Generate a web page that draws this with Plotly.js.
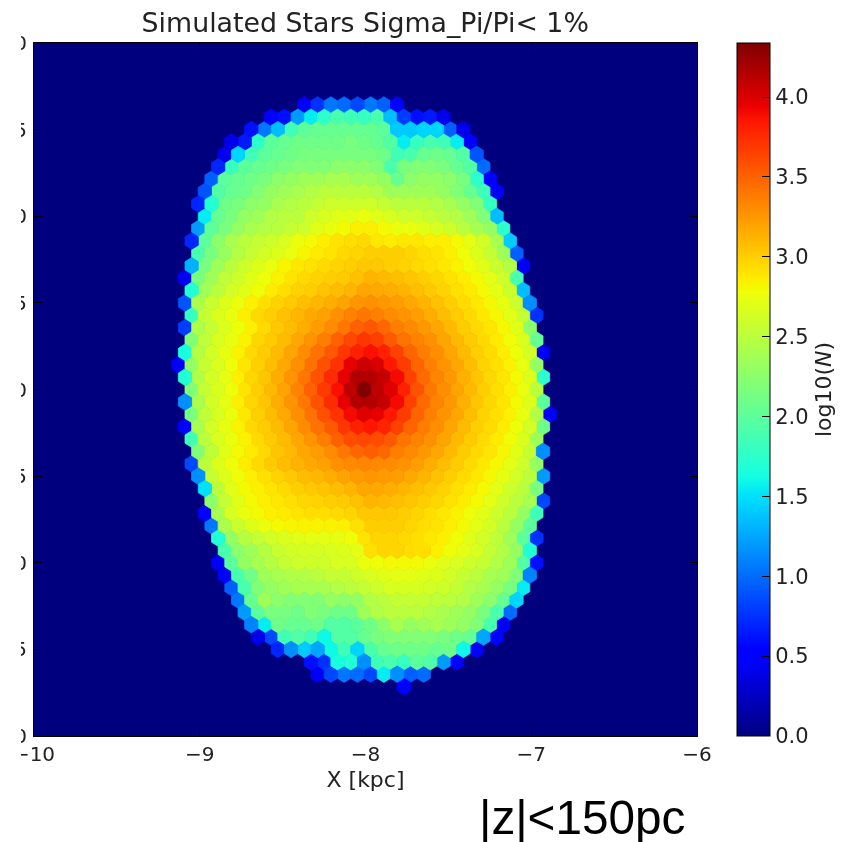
<!DOCTYPE html>
<html><head><meta charset="utf-8">
<script src="https://cdn.plot.ly/plotly-3.0.1.min.js"></script>
<style>html,body{margin:0;padding:0;background:#fff;overflow:hidden}#c{position:absolute;left:0;top:0;width:854px;height:842px;filter:blur(0.6px)}#crop{position:absolute;left:0;top:0;width:21px;height:842px;background:#fff}</style>
</head><body><div id="c"></div><div id="crop"></div>
<script>
// log10(N) per hexbin cell. Row k = half-row index from the bottom; rowStart = first column index.
const rowK = [51,50,49,48,47,46,45,44,43,42,41,40,39,38,37,36,35,34,33,32,31,30,29,28,27,26,25,24,23,22,21,20,19,18,17,16,15,14,13,12,11,10,9,8,7,6,5,4];
const rowStart = [20,18,16,15,14,14,13,13,12,13,12,12,12,12,11,12,11,12,11,12,11,11,11,12,11,12,11,12,12,12,12,13,13,13,13,14,14,14,14,15,15,16,16,17,18,21,21,28];
const rowValues = [
[.45,.75,1.05,1.0,.85,1.05,.95,.55],
[.5,.6,1.2,1.55,1.75,1.9,1.85,1.8,1.9,1.35,.8,.6,.65,.4],
[.6,1.05,1.35,1.85,2.0,2.05,2.05,2.05,2.05,2.05,2.0,1.4,1.4,1.45,1.45,.95,.4],
[.4,.65,1.75,2.0,2.05,2.1,2.1,2.1,2.1,2.15,2.1,2.05,1.95,1.55,1.8,1.9,1.85,1.55,.5],
[.4,1.45,1.85,2.0,2.05,2.1,2.15,2.15,2.15,2.15,2.15,2.15,2.1,1.85,1.9,2.05,2.1,2.05,1.95,.9],
[.7,1.8,2.0,2.05,2.1,2.15,2.2,2.2,2.2,2.25,2.25,2.25,2.2,1.9,2.15,2.2,2.2,2.15,2.05,1.95,1.0],
[.95,2.0,2.05,2.1,2.15,2.25,2.3,2.35,2.35,2.4,2.4,2.35,2.35,2.3,2.05,2.25,2.3,2.3,2.25,2.15,1.75,.5],
[.9,1.95,2.05,2.1,2.2,2.3,2.35,2.4,2.45,2.5,2.5,2.5,2.5,2.45,2.35,2.35,2.35,2.35,2.3,2.2,2.05,1.85,.45],
[.7,1.7,2.1,2.15,2.25,2.3,2.4,2.45,2.5,2.55,2.6,2.6,2.6,2.6,2.55,2.5,2.5,2.5,2.45,2.4,2.3,2.2,1.8],
[1.55,2.05,2.15,2.3,2.35,2.45,2.5,2.5,2.6,2.65,2.7,2.7,2.75,2.7,2.65,2.6,2.6,2.55,2.5,2.45,2.35,2.2,1.35],
[1.2,2.0,2.15,2.3,2.4,2.45,2.5,2.55,2.6,2.7,2.75,2.8,2.85,2.85,2.8,2.75,2.75,2.7,2.65,2.6,2.5,2.4,2.3,1.75],
[.7,2.0,2.25,2.4,2.5,2.55,2.6,2.65,2.75,2.8,2.85,2.9,2.93,2.95,2.88,2.86,2.88,2.88,2.85,2.85,2.8,2.72,2.62,2.4,1.4],
[1.9,2.15,2.32,2.46,2.55,2.62,2.68,2.75,2.82,2.87,2.9,2.95,2.97,3.0,3.0,3.0,2.97,2.93,2.9,2.85,2.78,2.68,2.55,2.35,.95],
[1.3,2.15,2.35,2.5,2.6,2.68,2.75,2.82,2.88,2.91,2.94,2.97,3.0,3.03,3.03,3.0,2.98,2.95,2.92,2.88,2.83,2.78,2.7,2.58,2.45,.45],
[.45,2.15,2.35,2.52,2.6,2.7,2.77,2.83,2.9,2.95,2.98,3.0,3.02,3.06,3.12,3.1,3.07,3.04,3.0,2.96,2.91,2.86,2.8,2.72,2.6,1.9],
[1.7,2.35,2.5,2.62,2.7,2.78,2.87,2.93,2.98,3.0,3.05,3.08,3.12,3.18,3.17,3.15,3.12,3.07,3.03,2.98,2.92,2.87,2.8,2.71,2.58,1.35],
[.9,2.42,2.57,2.68,2.76,2.84,2.93,2.98,3.02,3.07,3.11,3.15,3.2,3.26,3.28,3.25,3.22,3.17,3.12,3.06,3.0,2.94,2.88,2.81,2.73,2.58,1.15],
[1.8,2.55,2.67,2.75,2.85,2.95,3.0,3.06,3.11,3.17,3.21,3.28,3.35,3.4,3.36,3.31,3.27,3.22,3.15,3.08,3.01,2.95,2.88,2.81,2.71,2.55,.75],
[.8,2.43,2.55,2.67,2.77,2.85,2.95,3.03,3.08,3.15,3.23,3.31,3.4,3.5,3.55,3.48,3.37,3.32,3.25,3.18,3.1,3.01,2.95,2.89,2.81,2.7,2.25],
[2.2,2.52,2.65,2.74,2.84,2.96,3.02,3.09,3.18,3.27,3.37,3.5,3.62,3.7,3.66,3.54,3.42,3.35,3.28,3.19,3.1,3.02,2.95,2.87,2.79,2.67,2.05],
[1.65,2.47,2.62,2.73,2.83,2.95,3.01,3.09,3.19,3.31,3.43,3.54,3.7,3.8,3.88,3.8,3.65,3.49,3.37,3.29,3.19,3.09,3.0,2.94,2.86,2.77,2.63,.45],
[.45,2.3,2.56,2.66,2.77,2.89,2.99,3.08,3.17,3.29,3.43,3.58,3.72,3.95,4.05,4.0,3.84,3.67,3.49,3.36,3.27,3.18,3.08,2.98,2.92,2.84,2.74,2.3],
[1.7,2.45,2.62,2.72,2.85,2.96,3.04,3.15,3.27,3.4,3.57,3.75,3.95,4.15,4.15,4.08,3.9,3.65,3.46,3.34,3.25,3.14,3.04,2.96,2.89,2.8,2.68,1.75],
[2.2,2.55,2.67,2.77,2.9,3.0,3.1,3.2,3.35,3.5,3.68,3.88,4.1,4.33,4.1,3.98,3.8,3.57,3.4,3.3,3.2,3.1,3.0,2.93,2.85,2.75,2.5],
[1.15,2.42,2.62,2.72,2.85,2.96,3.04,3.15,3.27,3.4,3.57,3.75,3.95,4.15,4.15,4.08,3.9,3.65,3.46,3.34,3.25,3.14,3.04,2.96,2.89,2.8,2.68,2.0],
[2.15,2.52,2.65,2.75,2.88,2.99,3.08,3.17,3.29,3.43,3.58,3.72,3.9,3.98,3.95,3.84,3.67,3.49,3.36,3.27,3.18,3.08,2.98,2.92,2.84,2.74,2.45,.5],
[.5,2.4,2.62,2.73,2.83,2.95,3.01,3.09,3.19,3.31,3.43,3.54,3.7,3.8,3.85,3.78,3.65,3.49,3.37,3.29,3.19,3.09,3.0,2.94,2.86,2.77,2.63,2.1],
[1.85,2.5,2.65,2.75,2.84,2.95,3.02,3.09,3.18,3.27,3.37,3.5,3.6,3.62,3.6,3.54,3.42,3.35,3.28,3.19,3.1,3.02,2.95,2.87,2.79,2.67,2.35],
[2.2,2.52,2.7,2.8,2.87,2.95,3.04,3.1,3.18,3.23,3.31,3.4,3.48,3.52,3.48,3.37,3.32,3.25,3.18,3.1,3.01,2.95,2.89,2.81,2.7,2.55,1.15],
[.85,2.5,2.68,2.78,2.86,2.95,3.02,3.08,3.13,3.17,3.21,3.28,3.32,3.33,3.32,3.31,3.27,3.22,3.15,3.08,3.01,2.95,2.88,2.81,2.71,2.6,2.3],
[1.15,2.55,2.68,2.78,2.85,2.92,2.98,3.03,3.08,3.11,3.15,3.2,3.24,3.26,3.24,3.22,3.17,3.12,3.06,3.0,2.94,2.88,2.81,2.73,2.62,2.5,1.2],
[1.5,2.5,2.7,2.8,2.85,2.9,2.95,3.0,3.03,3.05,3.08,3.12,3.18,3.17,3.15,3.12,3.07,3.03,2.98,2.92,2.87,2.8,2.71,2.6,2.5,2.15],
[2.25,2.55,2.7,2.8,2.85,2.88,2.92,2.96,2.98,3.0,3.02,3.06,3.12,3.1,3.07,3.04,3.0,2.96,2.91,2.86,2.8,2.72,2.6,2.5,2.4,.85],
[.55,2.4,2.65,2.75,2.8,2.85,2.87,2.9,2.93,2.93,2.95,2.97,3.03,3.03,3.03,3.0,2.97,2.93,2.88,2.83,2.78,2.7,2.6,2.5,2.3,1.85],
[1.05,2.42,2.58,2.68,2.75,2.8,2.82,2.83,2.83,2.84,2.85,2.92,3.0,3.0,3.0,2.97,2.93,2.9,2.85,2.8,2.72,2.63,2.5,2.3,2.0],
[1.7,2.3,2.48,2.55,2.62,2.67,2.7,2.72,2.72,2.73,2.78,2.9,2.97,2.97,2.95,2.93,2.88,2.85,2.78,2.7,2.62,2.52,2.35,2.0,.75],
[1.9,2.25,2.35,2.47,2.57,2.62,2.64,2.64,2.65,2.68,2.72,2.92,2.97,2.97,2.93,2.93,2.85,2.78,2.72,2.65,2.55,2.45,2.3,1.7],
[.45,2.0,2.3,2.4,2.47,2.55,2.6,2.6,2.6,2.65,2.65,2.75,2.78,2.8,2.8,2.8,2.75,2.7,2.65,2.6,2.55,2.45,2.35,1.95,.6],
[.55,1.9,2.1,2.35,2.4,2.45,2.45,2.5,2.55,2.55,2.6,2.65,2.7,2.72,2.72,2.7,2.68,2.62,2.55,2.5,2.4,2.35,2.2,1.1],
[.95,1.9,2.2,2.3,2.35,2.4,2.4,2.4,2.45,2.5,2.55,2.6,2.65,2.65,2.65,2.62,2.6,2.55,2.45,2.4,2.3,2.15,1.55],
[1.05,2.05,2.35,2.25,2.2,2.2,2.2,2.3,2.25,2.3,2.45,2.5,2.55,2.55,2.55,2.52,2.5,2.45,2.35,2.25,2.05,1.45],
[1.2,2.0,2.15,2.15,2.1,2.2,2.15,2.1,2.1,2.35,2.45,2.5,2.5,2.5,2.45,2.4,2.35,2.3,2.15,1.9,1.0],
[1.1,1.55,2.1,2.05,2.05,2.1,1.95,1.95,2.0,2.1,2.25,2.4,2.3,2.35,2.4,2.35,2.3,2.2,1.9,.5],
[.4,.85,1.85,1.95,1.85,1.6,1.95,1.95,2.05,2.15,2.2,2.2,2.2,2.2,2.15,2.1,2.05,1.25,.55],
[.7,1.15,1.4,1.25,1.6,1.85,1.45,1.9,2.05,2.1,2.1,2.1,2.05,2.1,1.6,.5],
[.6,.75,1.65,1.7,1.15,1.85,1.9,1.8,2.0,1.95,1.2,.55],
[.45,.85,1.05,1.0,.85,1.55,1.15,.95,1.0],
[.5]
];
const xTicks = [-10,-9,-8,-7,-6];
const yTicks = [-2,-1.5,-1,-0.5,0,0.5,1,1.5,2];
const cbTicks = [0,0.5,1,1.5,2,2.5,3,3.5,4];
const xMin = -10.009, sx = 0.08, sy = 4/28, yMin = -2, cMax = 4.338;

// matplotlib "jet"
const jetR=[[0,0],[.35,0],[.66,1],[.89,1],[1,.5]], jetG=[[0,0],[.125,0],[.375,1],[.64,1],[.91,0],[1,0]], jetB=[[0,.5],[.11,1],[.34,1],[.65,0],[1,0]];
function lerp(t,s){for(let i=1;i<s.length;i++){if(t<=s[i][0]){return s[i-1][1]+(s[i][1]-s[i-1][1])*(t-s[i-1][0])/(s[i][0]-s[i-1][0]);}}return s[s.length-1][1];}
function jet(t){return 'rgb('+[jetR,jetG,jetB].map(s=>Math.round(255*lerp(t,s))).join(',')+')';}
const stops=[...new Set([...jetR,...jetG,...jetB].map(p=>p[0]))].sort((a,b)=>a-b);
const colorscale=stops.map(t=>[t,jet(t)]);

const groups=new Map(), cx=[], cy=[], cv=[];
rowValues.forEach((vals,r)=>{
  const k=rowK[r], y=yMin+k*sy/2;
  vals.forEach((v,j)=>{
    const i=rowStart[r]+j, x=xMin+(i+(k%2?0.5:0))*sx;
    const hw=sx/2, a=sy/6, b=sy/3;
    if(!groups.has(v))groups.set(v,{x:[],y:[]});
    const g=groups.get(v);
    g.x.push(x-hw,x-hw,x,x+hw,x+hw,x,x-hw,null);
    g.y.push(y-a,y+a,y+b,y+a,y-a,y-b,y-a,null);
    cx.push(x);cy.push(y);cv.push(v);
  });
});
const data=[];
groups.forEach((g,v)=>{
  const col=jet(v/cMax);
  data.push({type:'scatter',mode:'lines',x:g.x,y:g.y,fill:'toself',fillcolor:col,line:{color:col,width:0.8},hoverinfo:'skip',showlegend:false});
});
data.push({type:'scatter',mode:'markers',x:cx,y:cy,hoverinfo:'skip',showlegend:false,
  marker:{size:3,color:cv,cmin:0,cmax:cMax,colorscale:colorscale,line:{width:0},
    colorbar:{x:1.0603,xanchor:'left',xpad:0,ypad:0,y:0,yanchor:'bottom',len:1,lenmode:'fraction',thickness:33,thicknessmode:'pixels',
      outlinecolor:'#000',outlinewidth:1,ticks:'inside',ticklen:8,tickcolor:'#000',tickwidth:1,tickvals:cbTicks,ticktext:cbTicks.map(t=>t.toFixed(1)),
      tickfont:{family:'DejaVu Sans',size:21,color:'#222'},
      title:{text:'log10(<i>N</i>)',side:'right',font:{family:'DejaVu Sans',size:22,color:'#222'}}}}});
const axisCommon={showgrid:false,zeroline:false,showline:true,linecolor:'#000',linewidth:1,mirror:'ticks',ticks:'inside',ticklen:8,tickcolor:'#000',tickwidth:1,tickfont:{family:'DejaVu Sans',size:20,color:'#222'}};
const layout={width:854,height:842,margin:{l:33.5,r:157,t:43,b:106},paper_bgcolor:'#fff',plot_bgcolor:'#00007f',showlegend:false,
  title:{text:'Simulated Stars Sigma_Pi/Pi&lt; 1%',font:{family:'DejaVu Sans',size:26.8,color:'#222'},x:0.4277,xanchor:'center',y:0.9615,yanchor:'bottom'},
  xaxis:Object.assign({},axisCommon,{range:[-10,-6],tickvals:xTicks,ticktext:xTicks.map(t=>t<0?'\u2212'+(-t):String(t)),title:{text:'X [kpc]',standoff:6,font:{family:'DejaVu Sans',size:22,color:'#222'}}}),
  yaxis:Object.assign({},axisCommon,{range:[-2,2],tickvals:yTicks,ticktext:yTicks.map(t=>(t<0?'\u2212':'')+Math.abs(t).toFixed(1)),ticklabelstandoff:2}),
  annotations:[{xref:'paper',yref:'paper',x:(581.5-33.5)/663.5,y:-(817-736)/693,xanchor:'center',yanchor:'middle',showarrow:false,text:'|z|&lt;150pc',font:{family:'Liberation Sans',size:47.7,color:'#000'}}]
};
Plotly.newPlot('c',data,layout,{displayModeBar:false,staticPlot:true});
</script></body></html>
